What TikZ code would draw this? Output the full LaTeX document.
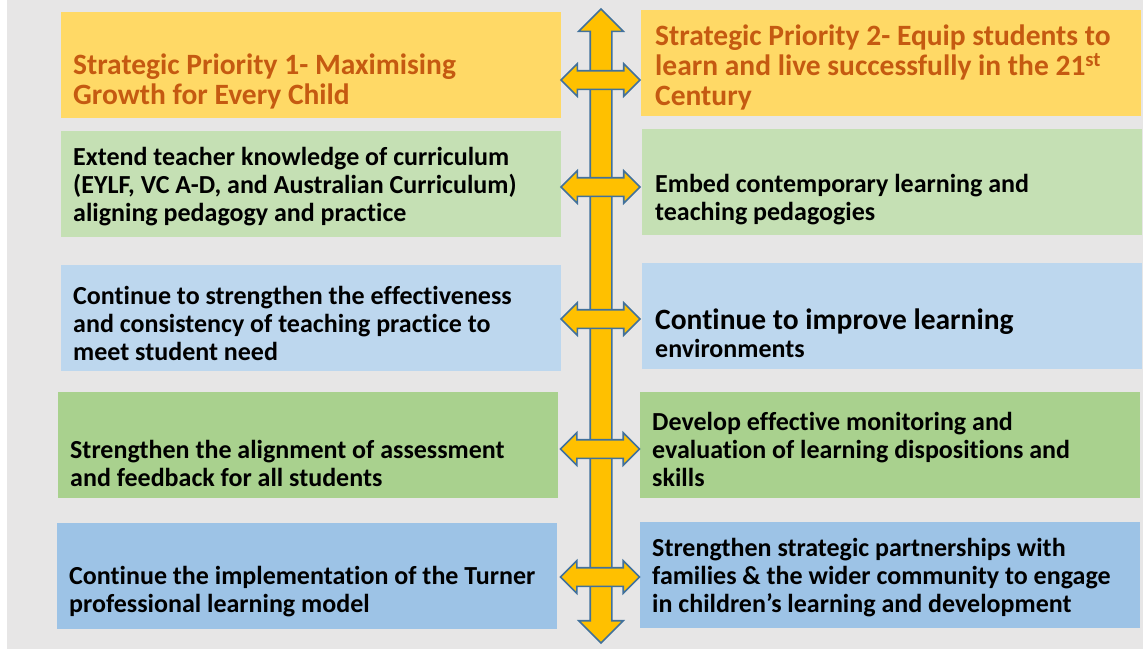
\documentclass[tikz,border=0pt]{standalone}
\usepackage{fontspec}
\setmainfont{Carlito}[Ligatures={NoCommon}]
\usetikzlibrary{shapes.arrows}

\definecolor{pagegray}{HTML}{E7E6E6}
\definecolor{prioyellow}{HTML}{FFD966}
\definecolor{priotext}{HTML}{C55A11}
\definecolor{palegreen}{HTML}{C5E0B4}
\definecolor{paleblue}{HTML}{BDD7EE}
\definecolor{midgreen}{HTML}{A9D18E}
\definecolor{midblue}{HTML}{9DC3E6}
\definecolor{arrowfill}{HTML}{FFC000}
\definecolor{arrowline}{HTML}{41719C}

\begin{document}
\begin{tikzpicture}[x=1pt, y=-1pt,
    box/.style={anchor=north west, minimum width=500pt, minimum height=106pt, inner sep=0pt, outer sep=0pt},
    txt/.style={anchor=west, align=left, inner sep=0pt, font=\bfseries\fontsize{26}{28}\selectfont},
    prio/.style={txt, text=priotext, font=\bfseries\fontsize{29.5}{30}\selectfont},
    link/.style={double arrow, double arrow head extend=7pt, double arrow head indent=0pt,
        minimum height=79pt, inner sep=8.5pt,
        fill=arrowfill, draw=arrowline, line width=1.6pt}]
    \useasboundingbox (0,0) rectangle (1143,649);
    \fill[pagegray] (7,0) rectangle (1143,649);

    % left column: priority 1
    \node[box, fill=prioyellow] (L1) at (61,12) {};
    \node[box, fill=palegreen] (L2) at (61,131) {};
    \node[box, fill=paleblue] (L3) at (61,265) {};
    \node[box, fill=midgreen] (L4) at (58,392) {};
    \node[box, fill=midblue] (L5) at (57,523) {};

    % right column: priority 2
    \node[box, fill=prioyellow] (R1) at (641,10) {};
    \node[box, fill=palegreen] (R2) at (642,129) {};
    \node[box, fill=paleblue] (R3) at (642,263) {};
    \node[box, fill=midgreen] (R4) at (640,392) {};
    \node[box, fill=midblue] (R5) at (640,522) {};

    % texts
    \node[prio] (tL1) at (73,81) {Strategic Priority 1- Maximising\\Growth for Every Child};
    \node[txt] (tL2) at (73,187) {Extend teacher knowledge of curriculum\\(EYLF, VC A-D, and Australian Curriculum)\\aligning pedagogy and practice};
    \node[txt] (tL3) at (73,323) {Continue to strengthen the effectiveness\\and consistency of teaching practice to\\meet student need};
    \node[txt] (tL4) at (70,463) {Strengthen the alignment of assessment\\and feedback for all students};
    \node[txt] (tL5) at (69,592) {Continue the implementation of the Turner\\professional learning model};

    \node[prio] (tR1) at (655,67) {Strategic Priority 2- Equip students to\\learn and live successfully in the 21\textsuperscript{st}\\Century};
    \node[txt] (tR2) at (655,200) {Embed contemporary learning and\\teaching pedagogies};
    \node[txt] (tR3) at (655,333) {{\fontsize{29.5}{30}\selectfont Continue to improve learning}\\environments};
    \node[txt] (tR4) at (652,449) {Develop effective monitoring and\\evaluation of learning dispositions and\\skills};
    \node[txt] (tR5) at (652,578) {Strengthen strategic partnerships with\\families \& the wider community to engage\\in children’s learning and development};

    % long vertical arrow between the columns
    \node[link, shape border rotate=90, inner sep=10pt, minimum height=634pt,
        double arrow head extend=11.5pt] (spine) at (601,326) {};

    % cross arrows, drawn on top of the spine
    \node[link] (a1) at (600.5,80) {};
    \node[link] (a2) at (600.5,187) {};
    \node[link] (a3) at (600.5,319) {};
    \node[link] (a4) at (600,449) {};
    \node[link] (a5) at (600,577) {};
\end{tikzpicture}
\end{document}
